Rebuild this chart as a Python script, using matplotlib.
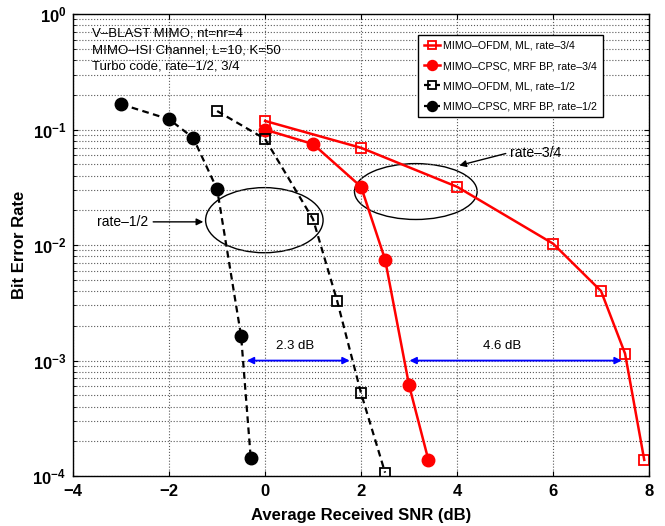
import matplotlib
matplotlib.use("Agg")
import matplotlib.pyplot as plt
from matplotlib.patches import Ellipse

plt.rcParams["font.family"] = ["Liberation Sans", "DejaVu Sans"]

# ---------- data ----------
snr_ofdm_34 = [0, 2, 4, 6, 7, 7.5, 7.9]
ber_ofdm_34 = [0.119, 0.0696, 0.032, 0.0103, 0.0040, 0.00115, 1.38e-4]

snr_cpsc_34 = [0, 1, 2, 2.5, 3, 3.4]
ber_cpsc_34 = [0.100, 0.075, 0.032, 0.0075, 6.1e-4, 1.39e-4]

snr_ofdm_12 = [-1, 0, 1, 1.5, 2, 2.5]
ber_ofdm_12 = [0.145, 0.083, 0.0167, 0.0033, 5.2e-4, 1.07e-4]

snr_cpsc_12 = [-3, -2, -1.5, -1, -0.5, -0.3]
ber_cpsc_12 = [0.166, 0.123, 0.085, 0.0305, 0.00163, 1.44e-4]

labels = ["MIMO\u2013OFDM, ML, rate\u20133/4",
          "MIMO\u2013CPSC, MRF BP, rate\u20133/4",
          "MIMO\u2013OFDM, ML, rate\u20131/2",
          "MIMO\u2013CPSC, MRF BP, rate\u20131/2"]

gap_12 = [-0.44, 1.82]
gap_34 = [2.95, 7.49]

fig = plt.figure(figsize=(6.65, 5.26), dpi=100)
ax = fig.add_axes([0.11, 0.095, 0.866, 0.878])

dash = (0, (3, 2))
ax.semilogy(snr_ofdm_34, ber_ofdm_34, color="red", lw=1.8, marker="s", ms=7,
            mfc="none", mec="red", mew=1.3, label=labels[0])
ax.semilogy(snr_cpsc_34, ber_cpsc_34, color="red", lw=1.8, marker="o", ms=9,
            mfc="red", mec="red", label=labels[1])
ax.semilogy(snr_ofdm_12, ber_ofdm_12, color="black", lw=1.6, ls=dash, marker="s", ms=7,
            mfc="none", mec="black", mew=1.3, label=labels[2])
ax.semilogy(snr_cpsc_12, ber_cpsc_12, color="black", lw=1.6, ls=dash, marker="o", ms=9,
            mfc="black", mec="black", label=labels[3])

ax.set_xlim(-4, 8)
ax.set_ylim(1e-4, 1)
ax.set_xticks(range(-4, 9, 2))
ax.set_xticklabels([("\u2212" if v < 0 else "") + str(abs(v)) for v in range(-4, 9, 2)])
ax.grid(True, which="major", ls=":", color="0.35", lw=0.8)
ax.grid(True, which="minor", axis="y", ls=":", color="0.35", lw=0.8)
ax.tick_params(which="both", direction="in", top=True, right=True)
ax.tick_params(axis="x", labelsize=12, pad=6)
ax.tick_params(axis="y", labelsize=12, pad=5)
for t in ax.get_xticklabels() + ax.get_yticklabels():
    t.set_fontweight("bold")
for s in ax.spines.values():
    s.set_linewidth(1.0)

ax.set_xlabel("Average Received SNR (dB)", fontsize=12, fontweight="bold", labelpad=6)
ax.set_ylabel("Bit Error Rate", fontsize=12, fontweight="bold", labelpad=4)

ax.text(-3.6, 0.76, "V\u2013BLAST MIMO, nt=nr=4\nMIMO\u2013ISI Channel, L=10, K=50\nTurbo code, rate\u20131/2, 3/4",
        fontsize=9.5, va="top", ha="left", linespacing=1.45)

leg = ax.legend(loc="upper right", bbox_to_anchor=(0.92, 0.955),
                prop={"size": 7.7}, fancybox=False, framealpha=1,
                edgecolor="black", handlelength=1.5, handletextpad=0.3,
                borderpad=0.55, labelspacing=0.95, borderaxespad=0, markerscale=0.8)
leg.get_frame().set_linewidth(1.0)

# ellipses
ax.add_patch(Ellipse((0.332, 0.554), 0.204, 0.141, transform=ax.transAxes,
                     fill=False, ec="black", lw=1.0))
ax.add_patch(Ellipse((0.595, 0.616), 0.213, 0.121, transform=ax.transAxes,
                     fill=False, ec="black", lw=1.0))

ax.annotate("", xy=(-1.23, 0.0159), xytext=(-2.39, 0.0159),
            arrowprops=dict(arrowstyle="-|>", color="black", lw=1.0, mutation_scale=10))
ax.text(-2.43, 0.0159, "rate\u20131/2", fontsize=10, ha="right", va="center")
ax.annotate("", xy=(3.99, 0.0483), xytext=(5.07, 0.063),
            arrowprops=dict(arrowstyle="-|>", color="black", lw=1.0, mutation_scale=10))
ax.text(5.1, 0.063, "rate\u20133/4", fontsize=10, ha="left", va="center")

# dB gaps
ax.annotate("", xy=(gap_12[0], 1e-3), xytext=(gap_12[1], 1e-3),
            arrowprops=dict(arrowstyle="<|-|>", color="blue", lw=1.3, mutation_scale=10))
ax.text(0.62, 1.33e-3, "2.3 dB", fontsize=9.5, ha="center", va="center")
ax.annotate("", xy=(gap_34[0], 1e-3), xytext=(gap_34[1], 1e-3),
            arrowprops=dict(arrowstyle="<|-|>", color="blue", lw=1.3, mutation_scale=10))
ax.text(4.93, 1.33e-3, "4.6 dB", fontsize=9.5, ha="center", va="center")

fig.savefig("out.png", dpi=100)
